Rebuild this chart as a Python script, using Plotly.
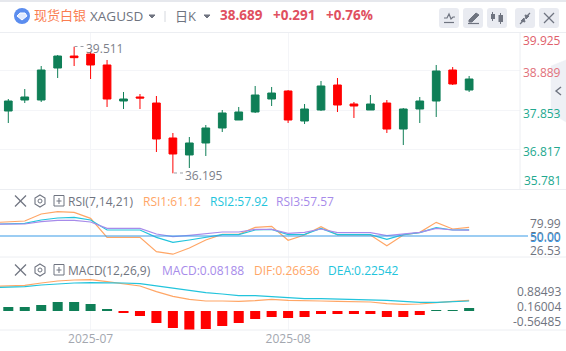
import plotly.graph_objects as go
from plotly.subplots import make_subplots

index = list(range(29))
line_index = list(range(-1,29))
opens = [37.827,38.115,38.115,38.953,39.267,39.320,39.032,38.089,38.194,38.036,37.120,36.675,36.989,37.382,37.591,37.801,38.141,38.351,37.565,37.853,38.508,38.010,37.853,38.036,37.355,37.879,38.089,38.901,38.377]
closes = [38.089,38.194,38.901,39.267,39.224,39.032,38.141,38.141,38.167,37.094,36.701,36.989,37.382,37.775,37.801,38.246,38.298,37.591,37.879,38.482,37.984,37.958,38.010,37.355,37.879,38.089,38.875,38.534,38.665]
highs = [38.141,38.403,39.005,39.294,39.511,39.381,39.163,38.325,38.272,38.220,37.251,37.146,37.460,37.853,37.932,38.482,38.456,38.377,38.010,38.613,38.691,38.063,38.246,38.115,37.905,38.194,39.032,38.979,38.744]
lows = [37.513,38.036,38.063,38.691,39.005,38.665,37.932,37.879,37.879,36.753,36.195,36.334,36.648,37.277,37.591,37.775,37.958,37.513,37.486,37.827,37.801,37.644,37.853,37.251,36.936,37.513,37.670,38.508,38.325]

rsi1 = [67.2,68.06,69.35,78.38,81.39,80.53,72.79,48.28,48.28,48.28,29.79,26.53,34.52,44.84,52.15,52.15,61.18,62.47,44.41,51.29,62.04,51.29,51.29,51.29,37.53,51.29,54.73,67.63,59.03,61.12]
rsi2 = [65.2,65.48,66.34,70.64,73.22,74.08,70.64,57.74,57.74,57.74,48.28,41.83,44.84,48.28,51.72,51.72,57.74,58.60,51.72,52.15,59.89,51.72,51.72,51.72,45.70,51.72,54.30,60.75,57.74,57.92]
rsi3 = [65.2,65.48,65.48,68.49,70.21,70.21,68.06,59.89,59.89,59.89,52.58,49.14,50.86,53.01,55.16,55.16,58.60,58.60,53.44,54.73,59.03,54.30,54.30,54.30,50.43,53.01,54.73,59.89,57.74,57.57]
rsi_mid = 50.0

dif = [.70,.7125,.7315,.798,.855,.8835,.893,.836,.779,.7125,.551,.418,.3325,.285,.285,.2755,.2945,.3325,.304,.304,.285,.2755,.266,.2565,.209,.19,.1995,.247,.2755,.304]
dea = [.665,.6745,.6935,.741,.779,.798,.8075,.8075,.798,.779,.7125,.646,.589,.5225,.4845,.437,.437,.4085,.3705,.3515,.3515,.342,.3325,.323,.304,.2755,.247,.247,.266,.285]
macd = [.114,.114,.171,.2565,.2565,.1995,.057,-.057,-.1425,-.342,-.4845,-.5415,-.513,-.4275,-.342,-.228,-.171,-.1995,-.171,-.0855,-.0855,-.0855,-.0855,-.171,-.171,-.114,.019,.0285,.0855]

price_grid = [38.889,37.853,36.817]
date_ticks = [5,17]
date_labels = ["2025-07","2025-08"]

GREEN="#0f7f57"; RED="#ff0000"; ORANGE="#ffa666"; CYAN="#22c4dc"; PURPLE="#a78bea"
GRID="#f4f5f8"; SEP="#eceef2"; GRAY="#6f7480"; FONT="Open Sans, Noto Sans CJK SC, sans-serif"
W,H=520,297
px=lambda x:x/W
py=lambda y:(330-y)/H

fig=make_subplots(rows=3,cols=1,shared_xaxes=True,vertical_spacing=0)
fig.add_trace(go.Candlestick(x=index,open=opens,high=highs,low=lows,close=closes,
    increasing=dict(line=dict(color=GREEN,width=1),fillcolor=GREEN),
    decreasing=dict(line=dict(color=RED,width=1),fillcolor=RED),whiskerwidth=0,showlegend=False,hoverinfo="skip"),row=1,col=1)
for s,c in ((rsi1,ORANGE),(rsi2,CYAN),(rsi3,PURPLE)):
    fig.add_trace(go.Scatter(x=line_index,y=s,mode="lines",line=dict(color=c,width=1.2),showlegend=False,hoverinfo="skip"),row=2,col=1)
fig.add_trace(go.Bar(x=index,y=macd,marker=dict(color=[GREEN if v>=0 else RED for v in macd],line=dict(width=0)),showlegend=False,hoverinfo="skip"),row=3,col=1)
for s,c in ((dif,ORANGE),(dea,CYAN)):
    fig.add_trace(go.Scatter(x=line_index,y=s,mode="lines",line=dict(color=c,width=1.2),showlegend=False,hoverinfo="skip"),row=3,col=1)

shapes=[];ann=[]
def text(x,y,t,color=GRAY,size=12,anchor="left",bold=False):
    ann.append(dict(xref="paper",yref="paper",x=px(x),y=py(y),text=f"<b>{t}</b>" if bold else t,showarrow=False,xanchor=anchor,yanchor="middle",
        xshift=0,borderpad=0,borderwidth=0,font=dict(family=FONT,size=size,color=color)))
def path(points,close=False):
    return "M "+" L ".join(f"{px(x):.5f} {py(y):.5f}" for x,y in points)+(" Z" if close else "")
def line(points,color=GRAY,w=1.2,close=False,fill=None,dash=None):
    shapes.append(dict(type="path",xref="paper",yref="paper",path=path(points,close),
        line=dict(color=color,width=w,dash=dash or "solid"),fillcolor=fill or "rgba(0,0,0,0)",layer="above"))
def rect(x0,y0,x1,y1,fill,lw=0,lc=None):
    shapes.append(dict(type="rect",xref="paper",yref="paper",x0=px(x0),x1=px(x1),y0=py(y1),y1=py(y0),fillcolor=fill,line=dict(width=lw,color=lc or fill),layer="above"))
def rrect(x0,y0,x1,y1,fill,r=3):
    d=(f"M {px(x0+r)} {py(y0)} L {px(x1-r)} {py(y0)} Q {px(x1)} {py(y0)} {px(x1)} {py(y0+r)} L {px(x1)} {py(y1-r)} Q {px(x1)} {py(y1)} {px(x1-r)} {py(y1)} "
       f"L {px(x0+r)} {py(y1)} Q {px(x0)} {py(y1)} {px(x0)} {py(y1-r)} L {px(x0)} {py(y0+r)} Q {px(x0)} {py(y0)} {px(x0+r)} {py(y0)} Z")
    shapes.append(dict(type="path",xref="paper",yref="paper",path=d,fillcolor=fill,line=dict(width=0),layer="above"))

# frame
rect(0,0,566,2,"#e6e8ed")
line([(0,32.5),(566,32.5)],SEP,1)
line([(520,33),(520,189)],SEP,1)
line([(0,189.5),(566,189.5)],SEP,1)
line([(0,257),(566,257)],SEP,1)
line([(0,330),(566,330)],SEP,1)
# header
shapes.append(dict(type="circle",xref="paper",yref="paper",x0=px(14),x1=px(30),y0=py(24),y1=py(8),fillcolor="#5b8def",line=dict(width=0)))
line([(17,16),(20,13),(25,13),(27,16),(22,20)],"#ffffff",1,True,"#dfe9ff")
text(34,15,"现货白银","#fa7d50",13)
text(90,16.5,"XAGUSD",GRAY,13.5)
line([(149,15),(155,15),(152,18)],GRAY,1,True,GRAY)
line([(165,11),(165,22)],"#d5d8de",1)
text(175,15.5,"日K",GRAY,13)
line([(204,15),(210,15),(207,18)],GRAY,1,True,GRAY)
text(220,15,"38.689","#e0505f",13.5,bold=True)
text(273,15,"+0.291","#e0505f",13.5,bold=True)
text(326,15,"+0.76%","#e0505f",13.5,bold=True)
for a,b in ((439,459),(463,483),(487,507),(515,535),(539,559)):
    rrect(a,8,b,28,"#e9ebf1")
line([(444,22.5),(454,22.5)],GRAY,1.2)
line([(444,18),(447,18),(449,14),(451,19),(453,17),(455,17)],GRAY,1.2)
line([(469,20),(476,13),(479,15),(472,22),(469,22)],GRAY,1,True,GRAY)
line([(468,23.5),(479,23.5)],GRAY,1.2)
line([(492.5,12),(492.5,21)],GRAY,1); rect(491,14,495,19,GRAY)
line([(500.5,13),(500.5,24)],GRAY,1); rect(498.5,15,503,22,GRAY)
line([(520,24),(523,21)],GRAY,1.2); line([(524,18),(521,21),(525,22)],GRAY,1,True,GRAY)
line([(530,13),(527,16)],GRAY,1.2); line([(526,19),(529,16),(525,15)],GRAY,1,True,GRAY)
line([(544,13),(554,23)],GRAY,1.2); line([(554,13),(544,23)],GRAY,1.2)
# collapse tab
line([(551,66),(566,60),(566,122),(551,113)],"#eef0f5",0.5,True,"#eef0f5")
line([(561,87),(556,91),(561,95)],GRAY,1.4)
# extremes
line([(74.5,46.5),(86,46.5)],"#9a9ea6",1,dash="dot")
text(86,49,"39.511","#7d818a",12)
line([(174,173),(185,173)],"#9a9ea6",1,dash="dot")
text(185,175.5,"36.195","#7d818a",12)
# price labels
for y,t,c in ((40.5,"39.925","#e0606b"),(72.5,"38.889","#e2717b"),(113,"37.853","#22a98f"),(151.5,"36.817","#22a98f"),(180,"35.781","#22a98f")):
    text(561,y,t,c,12,"right")
# indicator headers
def tools(y):
    line([(15,y-5.5),(26,y+5.5)],GRAY,1.2); line([(26,y-5.5),(15,y+5.5)],GRAY,1.2)
    line([(40,y-6),(45,y-3),(45,y+3),(40,y+6),(35,y+3),(35,y-3)],GRAY,1.1,True)
    shapes.append(dict(type="circle",xref="paper",yref="paper",x0=px(38),x1=px(42),y0=py(y+2),y1=py(y-2),line=dict(color=GRAY,width=1)))
    rect(54,y-5.5,64,y+5,"rgba(0,0,0,0)",1,GRAY)
    line([(56.5,y),(61.5,y)],GRAY,1); line([(59,y-3),(59,y+3)],GRAY,1)
tools(201)
text(68,201,"RSI(7,14,21)",GRAY,12)
text(143,201,"RSI1:61.12",ORANGE,12)
text(210,201,"RSI2:57.92",CYAN,12)
text(276,201,"RSI3:57.57",PURPLE,12)
tools(270)
text(68,270,"MACD(12,26,9)",GRAY,12)
text(162,270,"MACD:0.08188",PURPLE,12)
text(254,270,"DIF:0.26636",ORANGE,12)
text(328,270,"DEA:0.22542",CYAN,12)
# indicator axes
text(561,223.7,"79.99",GRAY,12,"right")
text(561,236,"50.00",GRAY,12,"right")
text(561,237,"50.00","#3a9be8",12,"right")
text(561,250,"26.53",GRAY,12,"right")
text(561,291.7,"0.88493",GRAY,12,"right")
text(561,306.7,"0.16004",GRAY,12,"right")
text(561,321.5,"-0.56485",GRAY,12,"right")
# RSI mid line
shapes.append(dict(type="line",xref="paper",yref="y2",x0=0,x1=px(528),y0=rsi_mid,y1=rsi_mid,line=dict(color="#3a9be8",width=1.2),layer="above"))

xr=[-0.504,31.09]
fig.update_layout(width=566,height=351,margin=dict(l=0,r=46,t=33,b=21),paper_bgcolor="#fff",plot_bgcolor="#fff",
    shapes=shapes,annotations=ann,showlegend=False,boxgap=0.33,bargap=0.39,hovermode=False,
    font=dict(family=FONT,size=12,color="#a3a7af"))
for n in (1,2,3):
    fig.update_xaxes(row=n,col=1,range=xr,tickmode="array",tickvals=date_ticks,ticktext=date_labels,showgrid=True,gridcolor=GRID,gridwidth=1,
        zeroline=False,showline=False,ticks="",rangeslider_visible=False,fixedrange=True)
fig.update_xaxes(row=3,col=1,showticklabels=True,tickfont=dict(family=FONT,size=12,color="#a3a7af"),ticklen=0)
fig.update_yaxes(row=1,col=1,domain=[141/297,1],range=[35.784,39.870],tickmode="array",tickvals=price_grid,showticklabels=False,showgrid=True,gridcolor=GRID,zeroline=False,ticks="")
fig.update_yaxes(row=2,col=1,domain=[73/297,140/297],range=[22.91,109.34],showticklabels=False,showgrid=False,zeroline=False,ticks="")
fig.update_yaxes(row=3,col=1,domain=[0,73/297],range=[-.5415,1.539],showticklabels=False,showgrid=False,zeroline=False,ticks="")
fig.write_html("out.html",config={"displayModeBar":False},post_script="document.body.style.margin='0';document.body.style.overflow='hidden';")
